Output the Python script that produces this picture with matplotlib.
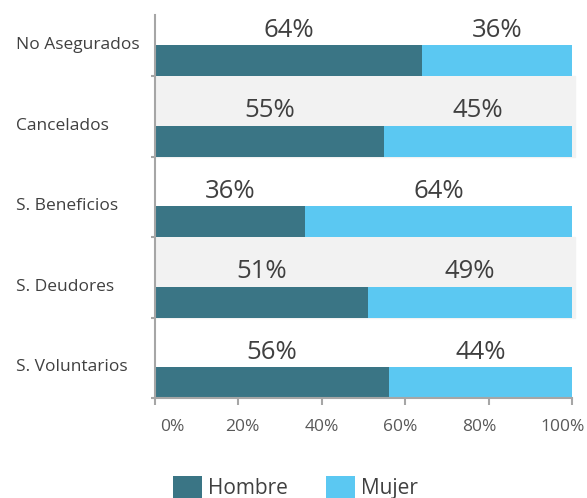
import matplotlib
matplotlib.use('Agg')
import matplotlib.pyplot as plt
import matplotlib.transforms as mtransforms
import numpy as np

plt.rcParams['font.family'] = ['Open Sans', 'DejaVu Sans']

categorias = ['No Asegurados', 'Cancelados', 'S. Beneficios', 'S. Deudores', 'S. Voluntarios']
hombre = [64, 55, 36, 51, 56]
mujer = [36, 45, 64, 49, 44]
xticks = [0, 20, 40, 60, 80, 100]
xtick_labels = ['0%', '20%', '40%', '60%', '80%', '100%']

c_hombre = '#3a7585'
c_mujer = '#5bc8f2'
texto = '#404040'

fig = plt.figure(figsize=(5.87, 4.98), dpi=100)
ax = fig.add_axes([155/587, 1-398/498, (572-155)/587, (398-15)/498])

y = np.arange(len(categorias))

# bandas grises alternas
for i in y:
    if i % 2 == 1:
        ax.axhspan(i-0.5, i+0.5, xmin=0, xmax=1.008, color='#f2f2f2', zorder=0, clip_on=False)

bar_h = 0.385
yb = y + 0.5 - bar_h/2
ax.barh(yb, hombre, height=bar_h, color=c_hombre, zorder=2, label='Hombre')
ax.barh(yb, mujer, left=hombre, height=bar_h, color=c_mujer, zorder=2, label='Mujer')

for i in y:
    ax.text(hombre[i]/2, i-0.07, f'{hombre[i]}%', ha='center', va='center',
            fontsize=18.5, color=texto)
    ax.text(hombre[i] + mujer[i]/2, i-0.07, f'{mujer[i]}%', ha='center', va='center',
            fontsize=18.5, color=texto)

ax.set_xlim(0, 100)
ax.set_ylim(4.5, -0.26)

ax.set_yticks(y + 0.09)
ax.set_yticklabels(categorias, fontsize=12.5, color=texto, ha='left')
ax.tick_params(axis='y', length=0, pad=100)
ax.set_yticks(np.arange(len(categorias)) + 0.5, minor=True)
ax.tick_params(axis='y', which='minor', length=3, color='#a6a6a6', width=1.5)

ax.set_xticks(xticks)
ax.set_xticklabels(xtick_labels, fontsize=12.5, color='#595959')
ax.tick_params(axis='x', length=5, color='#a6a6a6', width=1.5, pad=10)

# las etiquetas del eje x estan algo corridas hacia el centro
corr = [17, 4, 0, -5, -9, -9]
for lab, dx in zip(ax.get_xticklabels(), corr):
    lab.set_transform(lab.get_transform() + mtransforms.ScaledTranslation(dx/100, 0, fig.dpi_scale_trans))

for s in ['top', 'right']:
    ax.spines[s].set_visible(False)
for s in ['left', 'bottom']:
    ax.spines[s].set_color('#a6a6a6')
    ax.spines[s].set_linewidth(1.5)

fig.legend(loc='upper left', bbox_to_anchor=(173/587, 1-476/498), ncol=2, frameon=False,
           fontsize=15, handlelength=1.4, handleheight=1.3, handletextpad=0.3,
           columnspacing=1.8, borderpad=0, borderaxespad=0, labelcolor=texto)

fig.savefig('out.png', dpi=100)
